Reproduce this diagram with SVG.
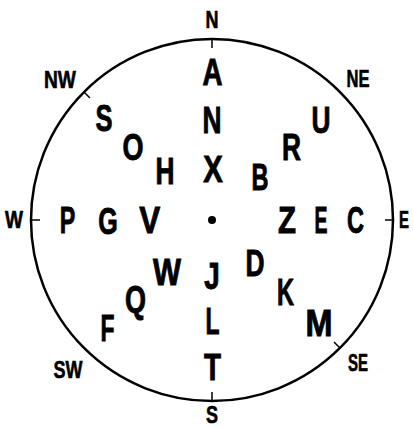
<svg xmlns="http://www.w3.org/2000/svg" width="413" height="429" viewBox="0 0 413 429">
<style>
.big{font-family:"Liberation Sans",Arial,sans-serif;font-weight:bold;font-size:37px;fill:#000;stroke:#000;stroke-width:0.9;text-anchor:middle}
.lab{font-family:"Liberation Sans",Arial,sans-serif;font-weight:bold;font-size:23px;fill:#000;stroke:#000;stroke-width:0.6;text-anchor:middle}
.tick{stroke:#000;stroke-width:1.5}
</style>
<rect width="413" height="429" fill="#fff"/>
<g id="compass">
<circle cx="212" cy="220" r="181" fill="none" stroke="#000" stroke-width="2.5"/>
<line class="tick" x1="212" y1="39" x2="212" y2="48"/>
<line class="tick" x1="212" y1="401" x2="212" y2="392"/>
<line class="tick" x1="32" y1="220" x2="40" y2="220"/>
<line class="tick" x1="392" y1="220" x2="385" y2="220"/>
<line class="tick" x1="84" y1="92" x2="90" y2="98"/>
<line class="tick" x1="340" y1="348" x2="334" y2="342"/>
<circle cx="212" cy="220" r="4" fill="#000"/>
</g>
<g id="labels">
<text class="lab" x="212" y="28" textLength="13" lengthAdjust="spacingAndGlyphs">N</text>
<text class="lab" x="212" y="423" textLength="12" lengthAdjust="spacingAndGlyphs">S</text>
<text class="lab" x="14" y="228" textLength="18" lengthAdjust="spacingAndGlyphs">W</text>
<text class="lab" x="404" y="228" textLength="10" lengthAdjust="spacingAndGlyphs">E</text>
<text class="lab" x="60" y="88" textLength="32" lengthAdjust="spacingAndGlyphs">NW</text>
<text class="lab" x="358" y="87" textLength="23" lengthAdjust="spacingAndGlyphs">NE</text>
<text class="lab" x="68" y="378" textLength="29" lengthAdjust="spacingAndGlyphs">SW</text>
<text class="lab" x="358" y="371" textLength="20" lengthAdjust="spacingAndGlyphs">SE</text>
</g>
<g id="letters">
<text class="big" x="212.5" y="85" textLength="20" lengthAdjust="spacingAndGlyphs">A</text>
<text class="big" x="212" y="133" textLength="19" lengthAdjust="spacingAndGlyphs">N</text>
<text class="big" x="213" y="182" textLength="19.5" lengthAdjust="spacingAndGlyphs">X</text>
<text class="big" x="104" y="131" textLength="17" lengthAdjust="spacingAndGlyphs">S</text>
<text class="big" x="133" y="160" textLength="21" lengthAdjust="spacingAndGlyphs">O</text>
<text class="big" x="165" y="184" textLength="19" lengthAdjust="spacingAndGlyphs">H</text>
<text class="big" x="321" y="133" textLength="19" lengthAdjust="spacingAndGlyphs">U</text>
<text class="big" x="291.5" y="160" textLength="19" lengthAdjust="spacingAndGlyphs">R</text>
<text class="big" x="260" y="190" textLength="17" lengthAdjust="spacingAndGlyphs">B</text>
<text class="big" x="67.5" y="233" textLength="15.5" lengthAdjust="spacingAndGlyphs">P</text>
<text class="big" x="108" y="234" textLength="19.5" lengthAdjust="spacingAndGlyphs">G</text>
<text class="big" x="149.7" y="233" textLength="21" lengthAdjust="spacingAndGlyphs">V</text>
<text class="big" x="287" y="233" textLength="18" lengthAdjust="spacingAndGlyphs">Z</text>
<text class="big" x="321" y="233" textLength="13" lengthAdjust="spacingAndGlyphs">E</text>
<text class="big" x="355.5" y="233" textLength="17" lengthAdjust="spacingAndGlyphs">C</text>
<text class="big" x="167" y="285" textLength="28" lengthAdjust="spacingAndGlyphs">W</text>
<text class="big" x="212" y="289" textLength="15.5" lengthAdjust="spacingAndGlyphs">J</text>
<text class="big" x="255" y="276" textLength="19" lengthAdjust="spacingAndGlyphs">D</text>
<text class="big" x="285.5" y="305" textLength="17" lengthAdjust="spacingAndGlyphs">K</text>
<text class="big" x="135.5" y="312" textLength="21" lengthAdjust="spacingAndGlyphs">Q</text>
<text class="big" x="107.5" y="341" textLength="14" lengthAdjust="spacingAndGlyphs">F</text>
<text class="big" x="212.5" y="334" textLength="14" lengthAdjust="spacingAndGlyphs">L</text>
<text class="big" x="319" y="336" textLength="27" lengthAdjust="spacingAndGlyphs">M</text>
<text class="big" x="212.5" y="380" textLength="17" lengthAdjust="spacingAndGlyphs">T</text>
</g>
</svg>
